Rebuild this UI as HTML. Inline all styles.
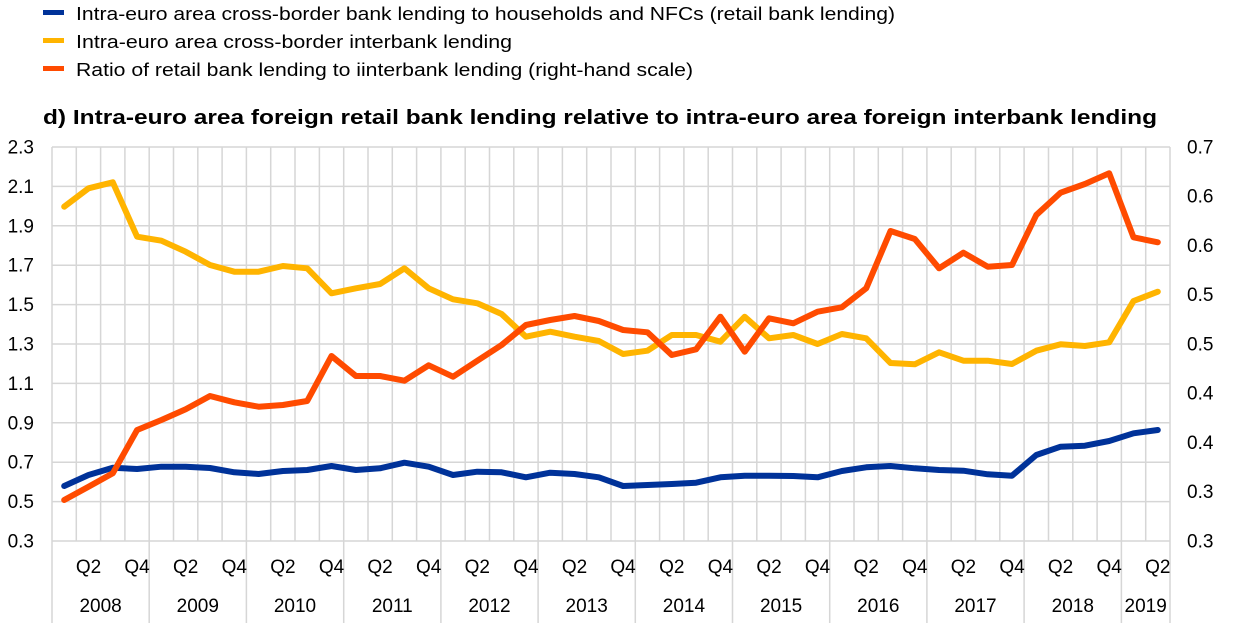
<!DOCTYPE html>
<html><head><meta charset="utf-8"><style>
html,body{margin:0;padding:0;background:#fff;}
svg{display:block;font-family:"Liberation Sans",Arial,sans-serif;}
</style></head><body>
<svg width="1240" height="623" viewBox="0 0 1240 623" xmlns="http://www.w3.org/2000/svg">
<rect width="1240" height="623" fill="#fff"/>
<!-- legend -->
<rect x="43" y="10" width="21" height="5" fill="#003299"/>
<rect x="43" y="38" width="21" height="5" fill="#FFB400"/>
<rect x="43" y="66" width="21" height="5" fill="#FF4B00"/>
<g font-size="18" fill="#000">
<text x="76" y="20" textLength="819" lengthAdjust="spacingAndGlyphs">Intra-euro area cross-border bank lending to households and NFCs (retail bank lending)</text>
<text x="76" y="48" textLength="436" lengthAdjust="spacingAndGlyphs">Intra-euro area cross-border interbank lending</text>
<text x="76" y="76" textLength="617" lengthAdjust="spacingAndGlyphs">Ratio of retail bank lending to iinterbank lending (right-hand scale)</text>
</g>
<text x="43" y="124" font-size="20" font-weight="bold" textLength="1114" lengthAdjust="spacingAndGlyphs">d) Intra-euro area foreign retail bank lending relative to intra-euro area foreign interbank lending</text>
<!-- grid -->
<g stroke="#d6d6d6" stroke-width="1.5" fill="none">
<path d="M52 147H1170M52 186.4H1170M52 225.8H1170M52 265.2H1170M52 304.6H1170M52 344H1170M52 383.4H1170M52 422.8H1170M52 462.2H1170M52 501.6H1170M52 541H1170"/>
<path d="M52 147V623M76.3 147V541M100.6 147V541M124.9 147V541M149.2 147V623M173.5 147V541M197.8 147V541M222.1 147V541M246.4 147V623M270.7 147V541M295 147V541M319.4 147V541M343.7 147V623M368 147V541M392.3 147V541M416.6 147V541M440.9 147V623M465.2 147V541M489.5 147V541M513.8 147V541M538.1 147V623M562.4 147V541M586.7 147V541M611 147V541M635.3 147V623M659.6 147V541M683.9 147V541M708.2 147V541M732.5 147V623M756.8 147V541M781.1 147V541M805.4 147V541M829.7 147V623M854 147V541M878.3 147V541M902.6 147V541M926.9 147V623M951.2 147V541M975.5 147V541M999.8 147V541M1024.1 147V623M1048.5 147V541M1072.8 147V541M1097.1 147V541M1121.4 147V623M1145.7 147V541M1170 147V623"/>
</g>
<!-- left axis -->
<g font-size="19" text-anchor="end" fill="#000">
<text x="34" y="153.5">2.3</text>
<text x="34" y="192.9">2.1</text>
<text x="34" y="232.3">1.9</text>
<text x="34" y="271.7">1.7</text>
<text x="34" y="311.1">1.5</text>
<text x="34" y="350.5">1.3</text>
<text x="34" y="389.9">1.1</text>
<text x="34" y="429.3">0.9</text>
<text x="34" y="468.7">0.7</text>
<text x="34" y="508.1">0.5</text>
<text x="34" y="547.5">0.3</text>
</g>
<!-- right axis -->
<g font-size="19" fill="#000">
<text x="1187" y="153.5">0.7</text>
<text x="1187" y="202.7">0.6</text>
<text x="1187" y="252">0.6</text>
<text x="1187" y="301.2">0.5</text>
<text x="1187" y="350.5">0.5</text>
<text x="1187" y="399.7">0.4</text>
<text x="1187" y="449">0.4</text>
<text x="1187" y="498.2">0.3</text>
<text x="1187" y="547.5">0.3</text>
</g>
<!-- quarter labels -->
<g font-size="19" text-anchor="middle" fill="#000">
<text x="88.5" y="573">Q2</text><text x="137.1" y="573">Q4</text>
<text x="185.7" y="573">Q2</text><text x="234.3" y="573">Q4</text>
<text x="282.9" y="573">Q2</text><text x="331.5" y="573">Q4</text>
<text x="380.1" y="573">Q2</text><text x="428.7" y="573">Q4</text>
<text x="477.3" y="573">Q2</text><text x="525.9" y="573">Q4</text>
<text x="574.5" y="573">Q2</text><text x="623.1" y="573">Q4</text>
<text x="671.8" y="573">Q2</text><text x="720.4" y="573">Q4</text>
<text x="769" y="573">Q2</text><text x="817.6" y="573">Q4</text>
<text x="866.2" y="573">Q2</text><text x="914.8" y="573">Q4</text>
<text x="963.4" y="573">Q2</text><text x="1012" y="573">Q4</text>
<text x="1060.6" y="573">Q2</text><text x="1109.2" y="573">Q4</text>
<text x="1157.8" y="573">Q2</text>
</g>
<g font-size="19" text-anchor="middle" fill="#000">
<text x="100.6" y="612">2008</text>
<text x="197.8" y="612">2009</text>
<text x="295" y="612">2010</text>
<text x="392.3" y="612">2011</text>
<text x="489.5" y="612">2012</text>
<text x="586.7" y="612">2013</text>
<text x="683.9" y="612">2014</text>
<text x="781.1" y="612">2015</text>
<text x="878.3" y="612">2016</text>
<text x="975.5" y="612">2017</text>
<text x="1072.8" y="612">2018</text>
<text x="1145.7" y="612">2019</text>
</g>
<!-- series -->
<g fill="none" stroke-width="6" stroke-linejoin="round" stroke-linecap="round">
<polyline stroke="#003299" points="64.2,486 88.5,475 112.8,467.7 137.1,469 161.4,466.7 185.7,466.7 210,468 234.3,472.3 258.6,474 282.9,471 307.2,470 331.5,466 355.9,470 380.1,468.3 404.4,462.7 428.7,466.7 453,475 477.3,471.7 501.6,472.3 525.9,477.3 550.2,472.7 574.5,474 598.8,477.3 623.1,486 647.5,485 671.8,484 696.1,482.7 720.4,477.3 744.7,475.7 769,475.7 793.3,476 817.6,477.3 841.9,471 866.2,467.3 890.5,466 914.8,468.3 939.1,470 963.4,470.7 987.7,474.3 1012,475.7 1036.3,455 1060.6,446.7 1084.9,445.7 1109.2,441 1133.5,433.3 1157.8,430"/>
<polyline stroke="#FFB400" points="64.2,206.7 88.5,188.3 112.8,182.3 137.1,236.7 161.4,240.7 185.7,251.7 210,265 234.3,271.7 258.6,271.7 282.9,266 307.2,268.3 331.5,293.3 355.9,288.3 380.1,284 404.4,268.3 428.7,288.3 453,299.3 477.3,303.3 501.6,314 525.9,336.7 550.2,331.7 574.5,336.7 598.8,341 623.1,354 647.5,350.7 671.8,335 696.1,335 720.4,341.7 744.7,316.7 769,338.3 793.3,335 817.6,344 841.9,334 866.2,338.3 890.5,363 914.8,364.3 939.1,352.3 963.4,360.7 987.7,360.7 1012,364 1036.3,350.7 1060.6,344.3 1084.9,346 1109.2,342.3 1133.5,301 1157.8,291.7"/>
<polyline stroke="#FF4B00" points="64.2,500 88.5,486.7 112.8,473.3 137.1,430 161.4,420 185.7,409.3 210,396 234.3,402.3 258.6,406.7 282.9,405 307.2,401 331.5,356 355.9,376 380.1,376 404.4,380.7 428.7,365.3 453,376.7 477.3,360.7 501.6,345 525.9,325 550.2,320 574.5,316 598.8,321 623.1,330 647.5,332.3 671.8,355 696.1,349.3 720.4,316.7 744.7,351.7 769,318.3 793.3,323.3 817.6,311.7 841.9,307.3 866.2,288.3 890.5,231 914.8,239 939.1,268.3 963.4,252.7 987.7,266.7 1012,265 1036.3,215 1060.6,192.7 1084.9,184 1109.2,173.3 1133.5,237.3 1157.8,242.3"/>
</g>
</svg>
</body></html>
